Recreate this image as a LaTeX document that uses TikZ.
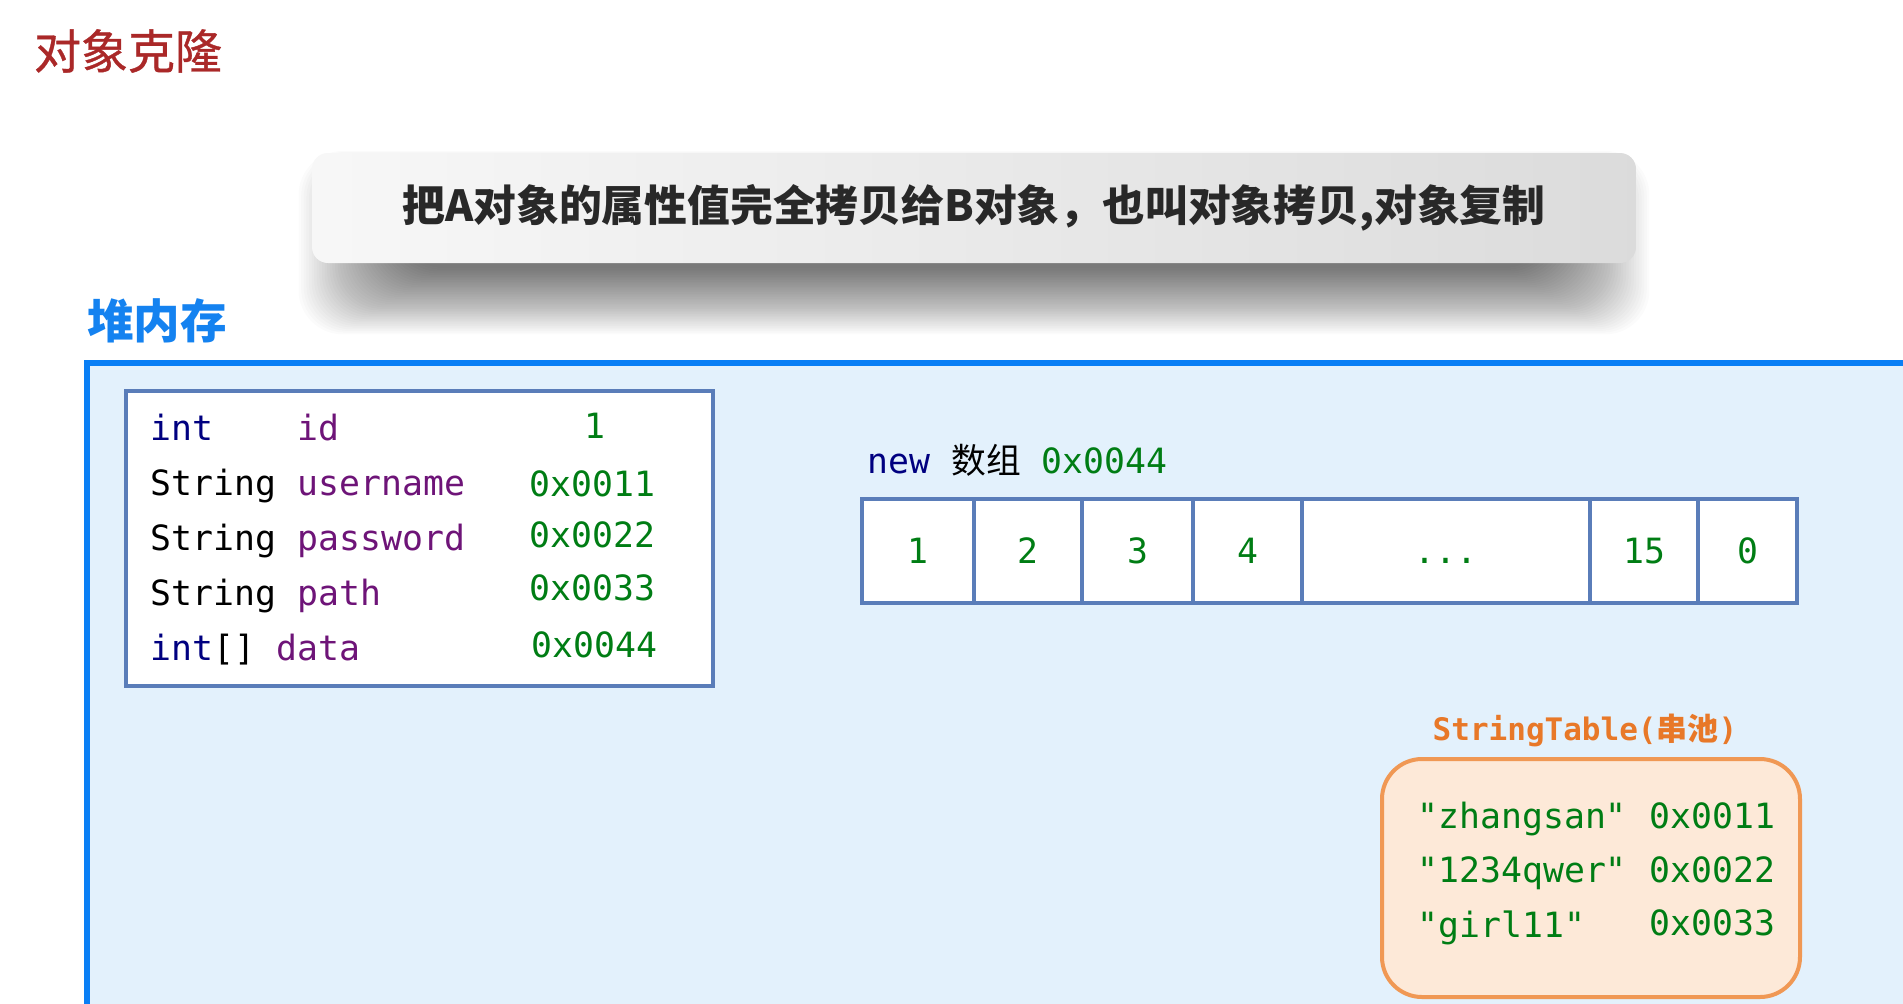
\documentclass[tikz,border=0pt]{standalone}
\usepackage{fontspec}
\newfontfamily\monofont{DejaVu Sans Mono}
\newfontfamily\cjk{Noto Sans CJK SC}
\newfontfamily\cjktitle{Noto Sans CJK SC}[FakeBold=0.8]
\definecolor{titlered}{RGB}{170,40,40}
\definecolor{heapblue}{RGB}{10,127,245}
\definecolor{heapfill}{RGB}{227,241,252}
\definecolor{labelblue}{RGB}{20,130,240}
\definecolor{steel}{RGB}{90,125,185}
\definecolor{kwnavy}{RGB}{0,0,128}
\definecolor{fieldpurple}{RGB}{110,20,120}
\definecolor{valgreen}{RGB}{0,125,20}
\definecolor{stfill}{RGB}{253,233,216}
\definecolor{stdraw}{RGB}{240,152,84}
\definecolor{storange}{RGB}{232,120,40}
\definecolor{bannertext}{RGB}{40,40,40}
\begin{document}
\begin{tikzpicture}[x=0.5pt,y=-0.5pt,
  mono/.style={font=\monofont\fontsize{17.4}{20}\selectfont, inner sep=0pt, anchor=base west},
  kw/.style={mono, text=kwnavy},
  typ/.style={mono, text=black},
  fld/.style={mono, text=fieldpurple},
  val/.style={mono, text=valgreen},
  cell/.style={draw=steel, line width=2pt, fill=white, inner sep=0pt,
    minimum height=52pt, text height=12.7pt, text depth=0pt,
    font=\monofont\fontsize{17.4}{20}\selectfont, text=valgreen},
]
\useasboundingbox (0,0) rectangle (1903,1003);
\fill[white] (0,0) rectangle (1903,1003);

% title
\node[font=\cjktitle\fontsize{23.5}{26}\selectfont, text=titlered, inner sep=0pt] (title) at (128,51) {对象克隆};

% banner shadow (soft, mostly below the banner)
\foreach \i in {0,...,39}{
  \fill[black, opacity=0.015, rounded corners=22pt]
    (400-2.6*\i,190-1.0*\i) rectangle (1548+2.6*\i,268+1.7*\i);
}

% banner
\node[minimum width=662pt, minimum height=55pt, rounded corners=8pt, inner sep=0pt,
  left color=black!3, right color=black!14,
  font=\cjk\bfseries\fontsize{21.4}{24}\selectfont, text=bannertext] (banner) at (974,208)
  {把A对象的属性值完全拷贝给B对象，也叫对象拷贝,对象复制};

% heap label
\node[font=\cjk\bfseries\fontsize{23.3}{26}\selectfont, text=labelblue, inner sep=0pt] (heaplabel) at (157,321) {堆内存};

% heap area
\node[draw=heapblue, line width=3pt, fill=heapfill, inner sep=0pt, anchor=north west,
  minimum width=910.5pt, minimum height=325pt] (heap) at (84,360) {};

% object box
\node[draw=steel, line width=1.8pt, fill=white, inner sep=0pt, anchor=north west,
  minimum width=293.5pt, minimum height=147.5pt] (obj) at (124,389) {};

\node[kw]  (t1) at (150,440) {int};
\node[fld] (n1) at (297,440) {id};
\node[val, anchor=base] (v1) at (595,438) {1};

\node[typ] (t2) at (150,495) {String};
\node[fld] (n2) at (297,495) {username};
\node[val] (v2) at (529,496) {0x0011};

\node[typ] (t3) at (150,550) {String};
\node[fld] (n3) at (297,550) {password};
\node[val] (v3) at (529,547) {0x0022};

\node[typ] (t4) at (150,605) {String};
\node[fld] (n4) at (297,605) {path};
\node[val] (v4) at (529,600) {0x0033};

\node[kw]  (t5) at (150,660) {int\textcolor{black}{[]}};
\node[fld] (n5) at (276,660) {data};
\node[val] (v5) at (531,657) {0x0044};

% array
\node[mono] (arrlabel) at (867,473) {\textcolor{kwnavy}{new} {\cjk 数组} \textcolor{valgreen}{0x0044}};

\node[cell, minimum width=56pt]  (c1) at (918,551)    {1};
\node[cell, minimum width=54pt]  (c2) at (1028,551)   {2};
\node[cell, minimum width=55.5pt] (c3) at (1137.5,551) {3};
\node[cell, minimum width=54.5pt] (c4) at (1247.5,551) {4};
\node[cell, minimum width=144pt] (c5) at (1446,551)   {...};
\node[cell, minimum width=54pt]  (c6) at (1644,551)   {15};
\node[cell, minimum width=49.5pt] (c7) at (1747.5,551) {0};

% string table
\node[font=\monofont\bfseries\fontsize{15.5}{18}\selectfont, text=storange, inner sep=0pt, anchor=base] (stlabel) at (1585,740)
  {StringTable({\cjk\bfseries 串池})};

\node[draw=stdraw, line width=2pt, fill=stfill, rounded corners=20pt, inner sep=0pt, anchor=north west,
  minimum width=209pt, minimum height=119pt] (st) at (1380,757) {};

\node[val] (s1) at (1417,828) {"zhangsan"};
\node[val] (a1) at (1649,828) {0x0011};
\node[val] (s2) at (1417,882) {"1234qwer"};
\node[val] (a2) at (1649,882) {0x0022};
\node[val] (s3) at (1417,937) {"girl11"};
\node[val] (a3) at (1649,935) {0x0033};
\end{tikzpicture}
\end{document}
